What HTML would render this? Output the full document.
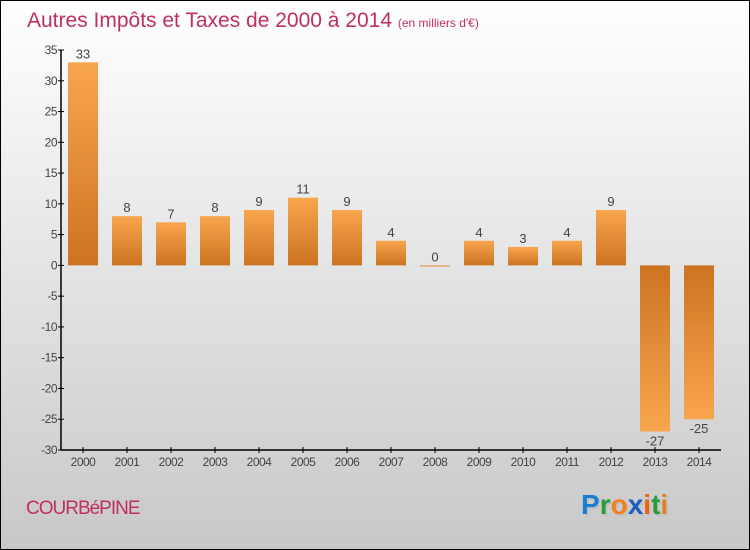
<!DOCTYPE html>
<html><head><meta charset="utf-8"><style>
body{margin:0}
#c{width:750px;height:550px;position:relative;overflow:hidden;font-family:"Liberation Sans",sans-serif}
</style></head><body>
<div id="c">
<svg id="s" width="750" height="550" xmlns="http://www.w3.org/2000/svg">
<defs>
<linearGradient id="bg" x1="0" y1="0" x2="0" y2="1"><stop offset="0" stop-color="#ffffff"/><stop offset="1" stop-color="#c8c8c8"/></linearGradient>
<linearGradient id="gp" x1="0" y1="0" x2="0" y2="1"><stop offset="0" stop-color="#f8a64e"/><stop offset="1" stop-color="#cc7420"/></linearGradient>
<linearGradient id="gn" x1="0" y1="0" x2="0" y2="1"><stop offset="0" stop-color="#cc7420"/><stop offset="1" stop-color="#f8a64e"/></linearGradient>
</defs>
<rect x="0.5" y="0.5" width="749" height="549" fill="url(#bg)" stroke="#000"/>
<text x="27" y="27" font-size="21" fill="#c0305f">Autres Impôts et Taxes de 2000 à 2014 <tspan font-size="12">(en milliers d'€)</tspan></text>
<g id="plot"></g>
<text x="26" y="514" font-size="19" fill="#c0305f" letter-spacing="-1">COURBéPINE</text>
<g font-size="28" font-weight="bold" font-family="Liberation Sans, sans-serif">
<text x="583" y="516" fill="#bbb" opacity="0.6">Proxiti</text>
<text x="581" y="514"><tspan fill="#1a7fd0">P</tspan><tspan fill="#2a9a3a">r</tspan><tspan fill="#f08020">o</tspan><tspan fill="#1a5fc0">x</tspan><tspan fill="#f06010">i</tspan><tspan fill="#2a9a3a">t</tspan><tspan fill="#e08020">i</tspan></text>
</g>
</svg>
</div>
<script>
const years=["2000","2001","2002","2003","2004","2005","2006","2007","2008","2009","2010","2011","2012","2013","2014"];
const values=[33,8,7,8,9,11,9,4,0,4,3,4,9,-27,-25];
const yTicks=[35,30,25,20,15,10,5,0,-5,-10,-15,-20,-25,-30];
const NS="http://www.w3.org/2000/svg";
const g=document.getElementById('plot');
const y=v=>50+(35-v)*400/65;
const x=i=>83+i*44;
function mk(t,a){const e=document.createElementNS(NS,t);for(const k in a)e.setAttribute(k,a[k]);g.appendChild(e);return e;}
const ax=mk('line',{x1:61,y1:50,x2:61,y2:450,stroke:'#000','stroke-width':1.5});


const bx=mk('line',{x1:61,y1:450,x2:721,y2:450,stroke:'#000','stroke-width':1.5});


yTicks.forEach(v=>{
 const t=mk('line',{x1:58,y1:y(v),x2:64,y2:y(v),stroke:'#000'});
 
 
 const l=mk('text',{x:57,y:y(v)+4,'font-size':12,fill:'#444','text-anchor':'end','letter-spacing':'-0.5'});
 l.textContent=v;
 
 
});
years.forEach((yr,i)=>{
 const t=mk('line',{x1:x(i),y1:447,x2:x(i),y2:453,stroke:'#000'});
 
 
 const l=mk('text',{x:x(i),y:466,'font-size':12,fill:'#444','text-anchor':'middle','letter-spacing':'-0.5'});
 l.textContent=yr;
 
 
 const v=values[i];
 const top=Math.min(y(v),y(0)),h=Math.max(Math.abs(y(v)-y(0)),1);
 const r=mk('rect',{x:x(i)-15,y:top,width:30,height:h,fill:v>=0?'url(#gp)':'url(#gn)'});
 
 
 const vl=mk('text',{x:x(i),y:v>=0?y(v)-4:y(v)+14,'font-size':13,fill:'#444','text-anchor':'middle'});
 vl.textContent=v;
 
 
});
</script>
</body></html>
